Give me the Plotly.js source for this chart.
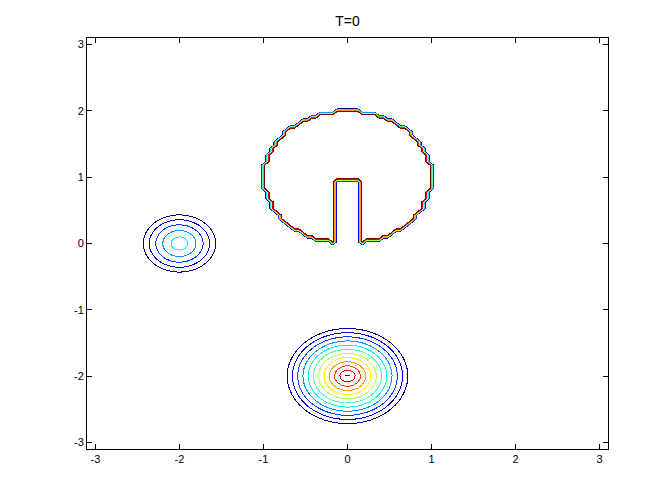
<!DOCTYPE html>
<html>
<head>
<meta charset="utf-8">
<script src="https://cdn.plot.ly/plotly-3.0.1.min.js"></script>
<style>
html,body{margin:0;padding:0;background:#fff;}
#chart path{shape-rendering:crispEdges;}
</style>
</head>
<body>
<div id="chart" style="width:672px;height:504px;"></div>
<script>
// sampling grid and visible window
const gridMin = -Math.PI;
const gridMax = Math.PI;
const gridCount = 126;
const axisRange = [-3.1, 3.1];

// slotted disk
const diskCenter = [0, 1];
const diskRadius = 1;
const diskHeight = 1;
const slotHalfWidth = 0.15;
const slotTop = 0.955;

// the two cones, at (-2,0) and (0,-2)
const coneX = [-2, 0];
const coneY = [0, -2];
const coneRadius = [0.5, 0.78];
const coneHeight = [0.44, 0.96];
const conePower = [1.3, 1];

// contour levels
const levelStart = 1 / 13;
const levelEnd = 12 / 13;
const levelStep = 1 / 13;

const tickVals = [-3, -2, -1, 0, 1, 2, 3];
const tickText = ['-3', '-2', '-1', '0', '1', '2', '3'];

// matlab jet
const jet = [
  [0, 'rgb(0,0,128)'],
  [0.125, 'rgb(0,0,255)'],
  [0.375, 'rgb(0,255,255)'],
  [0.625, 'rgb(255,255,0)'],
  [0.875, 'rgb(255,0,0)'],
  [1, 'rgb(128,0,0)']
];

function fieldAt( x, y ) {
  let z = 0;

  const dx = x - diskCenter[0];
  const dy = y - diskCenter[1];
  const inDisk = Math.sqrt(dx * dx + dy * dy) <= diskRadius;
  const inSlot = Math.abs(dx) < slotHalfWidth && y < slotTop;
  if( inDisk && !inSlot ) z = diskHeight;

  for( let k = 0; k < coneX.length; k++ ) {
    const r = Math.hypot(x - coneX[k], y - coneY[k]);
    if( r < coneRadius[k] ) {
      z += coneHeight[k] * (1 - Math.pow(r / coneRadius[k], conePower[k]));
    }
  }
  return z;
}

const step = (gridMax - gridMin) / (gridCount - 1);
const xs = [];
for( let i = 0; i < gridCount; i++ ) xs.push(gridMin + i * step);
const ys = xs.slice();

const zs = [];
for( let j = 0; j < gridCount; j++ ) {
  const row = [];
  for( let i = 0; i < gridCount; i++ ) row.push( fieldAt(xs[i], ys[j]) );
  zs.push(row);
}

const axisFont = { family: 'Liberation Sans, Arial, sans-serif', size: 11, color: '#000' };

function axisStyle() {
  return {
    range: axisRange,
    tickmode: 'array',
    tickvals: tickVals,
    ticktext: tickText,
    ticks: 'inside',
    ticklen: 5,
    tickwidth: 1,
    tickcolor: '#000',
    showline: true,
    linecolor: '#000',
    linewidth: 1,
    mirror: 'ticks',
    showgrid: false,
    zeroline: false,
    tickfont: axisFont
  };
}

const data = [{
  type: 'contour',
  x: xs,
  y: ys,
  z: zs,
  autocontour: false,
  contours: { start: levelStart, end: levelEnd, size: levelStep, coloring: 'lines' },
  colorscale: jet,
  line: { width: 1, smoothing: 0 },
  showscale: false,
  hoverinfo: 'skip'
}];

const layout = {
  width: 672,
  height: 504,
  margin: { l: 87, r: 64, t: 38, b: 55 },
  paper_bgcolor: '#fff',
  plot_bgcolor: '#fff',
  showlegend: false,
  title: {
    text: 'T=0',
    font: { family: 'Liberation Sans, Arial, sans-serif', size: 14, color: '#000' },
    xref: 'paper',
    x: 0.5,
    yref: 'container',
    y: 1 - 21 / 504,
    yanchor: 'middle'
  },
  xaxis: axisStyle(),
  yaxis: axisStyle()
};

Plotly.newPlot('chart', data, layout, { staticPlot: true });
</script>
</body>
</html>
